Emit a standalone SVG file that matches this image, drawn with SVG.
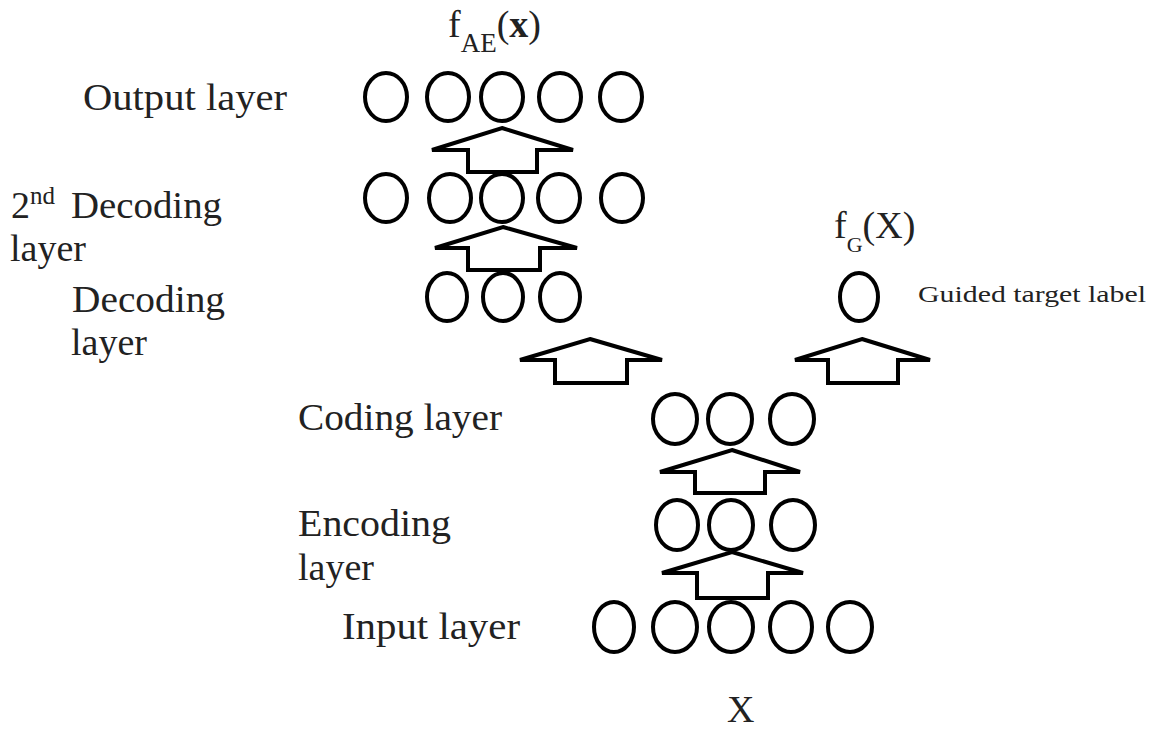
<svg xmlns="http://www.w3.org/2000/svg" width="1154" height="732" viewBox="0 0 1154 732">
<style>
.n{fill:none;stroke:#000;stroke-width:4}
.a{fill:none;stroke:#000;stroke-width:4;stroke-linejoin:miter}
.t{font-family:"Liberation Serif","Times New Roman",serif;font-size:38px;fill:#222}
.s{font-family:"Liberation Serif","Times New Roman",serif;font-size:24px;fill:#222}
</style>
<rect width="1154" height="732" fill="#fff"/>
<g id="connectors">
<polygon class="a" points="502,128 573,150 537,150 537,172 468,172 468,150 432,150"/>
<polygon class="a" points="503,227 577,248 540,248 540,270 468,270 468,248 435,248"/>
<polygon class="a" points="590,339 662,360 627,360 627,383 555,383 555,360 520,360"/>
<polygon class="a" points="862,339 930,360 898,360 898,383 828,383 828,360 795,360"/>
<polygon class="a" points="732,450 800,472 765,472 765,493 695,493 695,472 660,472"/>
<polygon class="a" points="732,552 803,573 768,573 768,598 697,598 697,573 662,573"/>
</g>
<g id="output-layer">
<ellipse class="n" cx="386" cy="97" rx="21" ry="24"/>
<ellipse class="n" cx="448" cy="97" rx="21" ry="24"/>
<ellipse class="n" cx="502" cy="97" rx="21" ry="24"/>
<ellipse class="n" cx="560" cy="97" rx="21" ry="24"/>
<ellipse class="n" cx="621" cy="97" rx="21" ry="24"/>
</g>
<g id="decoding2-layer">
<ellipse class="n" cx="386" cy="198" rx="21" ry="24"/>
<ellipse class="n" cx="450" cy="198" rx="21" ry="24"/>
<ellipse class="n" cx="502" cy="198" rx="21" ry="24"/>
<ellipse class="n" cx="559" cy="198" rx="21" ry="24"/>
<ellipse class="n" cx="622" cy="198" rx="21" ry="24"/>
</g>
<g id="decoding-layer">
<ellipse class="n" cx="447" cy="297" rx="20" ry="24"/>
<ellipse class="n" cx="503" cy="297" rx="20" ry="24"/>
<ellipse class="n" cx="560" cy="297" rx="20" ry="24"/>
</g>
<g id="guided-target">
<ellipse class="n" cx="859" cy="297" rx="19" ry="24"/>
</g>
<g id="coding-layer">
<ellipse class="n" cx="675" cy="419" rx="22" ry="25"/>
<ellipse class="n" cx="730" cy="419" rx="22" ry="25"/>
<ellipse class="n" cx="792" cy="419" rx="22" ry="25"/>
</g>
<g id="encoding-layer">
<ellipse class="n" cx="677" cy="525" rx="21" ry="25"/>
<ellipse class="n" cx="731" cy="525" rx="22" ry="25"/>
<ellipse class="n" cx="793" cy="525" rx="22" ry="25"/>
</g>
<g id="input-layer">
<ellipse class="n" cx="614" cy="627" rx="20" ry="25"/>
<ellipse class="n" cx="675" cy="627" rx="22" ry="25"/>
<ellipse class="n" cx="731" cy="627" rx="22" ry="25"/>
<ellipse class="n" cx="791" cy="627" rx="21" ry="25"/>
<ellipse class="n" cx="850" cy="627" rx="22" ry="25"/>
</g>
<g id="labels">
<text class="t" x="448" y="37" font-size="44">f<tspan font-size="27" dy="15">AE</tspan><tspan dy="-15">(</tspan><tspan font-weight="bold">x</tspan>)</text>
<text class="t" x="83" y="110" textLength="204" lengthAdjust="spacingAndGlyphs">Output layer</text>
<text class="t" x="11" y="218">2<tspan font-size="25" dy="-14">nd</tspan><tspan x="71" dy="14" textLength="151" lengthAdjust="spacingAndGlyphs">Decoding</tspan></text>
<text class="t" x="10" y="261">layer</text>
<text class="t" x="72" y="312" textLength="153" lengthAdjust="spacingAndGlyphs">Decoding</text>
<text class="t" x="71" y="355">layer</text>
<text class="t" x="834" y="238" font-size="34">f<tspan font-size="22" dy="14">G</tspan><tspan dy="-14">(X)</tspan></text>
<text class="s" x="918" y="302" textLength="228" lengthAdjust="spacingAndGlyphs">Guided target label</text>
<text class="t" x="298" y="430" textLength="204" lengthAdjust="spacingAndGlyphs">Coding layer</text>
<text class="t" x="298" y="536" textLength="153" lengthAdjust="spacingAndGlyphs">Encoding</text>
<text class="t" x="298" y="580">layer</text>
<text class="t" x="342" y="639" textLength="178" lengthAdjust="spacingAndGlyphs">Input layer</text>
<text class="t" x="727" y="722" font-size="34">X</text>
</g>
</svg>
